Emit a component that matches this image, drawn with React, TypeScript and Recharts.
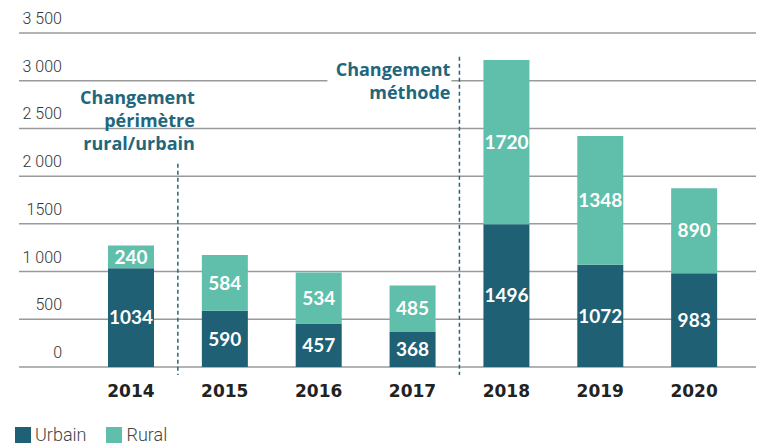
import { BarChart, Bar, XAxis, YAxis, CartesianGrid, LabelList, ReferenceLine, Legend } from 'recharts';

const years = ['2014', '2015', '2016', '2017', '2018', '2019', '2020'];
const urbain = [1034, 590, 457, 368, 1496, 1072, 983];
const rural = [240, 584, 534, 485, 1720, 1348, 890];
const yTicks = [0, 500, 1000, 1500, 2000, 2500, 3000, 3500];
const yTickLabels = ['0', '500', '1 000', '1500', '2 000', '2 500', '3 000', '3 500'];

const data = years.map((year, i) => ({ year, urbain: urbain[i], rural: rural[i] }));

const URBAIN = '#1f6075';
const RURAL = '#5fbfab';
const NOTE = '#22667b';
const LABEL_FONT = 'Lato, "Open Sans", sans-serif';
const NOTE_FONT = '"Open Sans", Lato, sans-serif';
const AXIS_FONT = 'Roboto, sans-serif';

const YTick = ({ y, payload }: any) => {
  const idx = yTicks.indexOf(payload.value);
  return (
    <text x={62} y={y - 9} textAnchor="end" fontFamily={AXIS_FONT} fontWeight={300} fontSize={16} fill="#333">
      {yTickLabels[idx]}
    </text>
  );
};

const XTick = ({ x, y, payload }: any) => (
  <text x={x} y={y + 16} textAnchor="middle" dominantBaseline="central" fontFamily='"DejaVu Sans", sans-serif' fontWeight={700} fontSize={17} fill="#222">
    {payload.value}
  </text>
);

const PerimetreNote = ({ viewBox }: any) => {
  const { x, y } = viewBox;
  const lines = ['Changement', 'périmètre', 'rural/urbain'];
  return (
    <g>
      {lines.map((t, i) => (
        <text key={t} x={x + 17} y={y - 67 + i * 23} textAnchor="end" dominantBaseline="central" fontFamily={NOTE_FONT} fontWeight={700} fontSize={18} fill={NOTE}>
          {t}
        </text>
      ))}
    </g>
  );
};

const MethodeNote = ({ viewBox }: any) => {
  const { x, y } = viewBox;
  const lines = ['Changement', 'méthode'];
  return (
    <g>
      <rect x={x - 132} y={y} width={124} height={46} fill="#fff" />
      {lines.map((t, i) => (
        <text key={t} x={x - 9} y={y + 12 + i * 23} textAnchor="end" dominantBaseline="central" fontFamily={NOTE_FONT} fontWeight={700} fontSize={18} fill={NOTE}>
          {t}
        </text>
      ))}
    </g>
  );
};

const LegendContent = () => (
  <div style={{ display: 'flex', alignItems: 'center', fontFamily: AXIS_FONT, fontWeight: 300, fontSize: 18, lineHeight: '18px', color: '#444' }}>
    <span style={{ width: 16, height: 16, background: URBAIN, display: 'inline-block', marginRight: 4 }} />
    <span style={{ marginRight: 20 }}>Urbain</span>
    <span style={{ width: 16, height: 16, background: RURAL, display: 'inline-block', marginRight: 4 }} />
    <span>Rural</span>
  </div>
);

export default function App() {
  return (
    <div style={{ width: 758, height: 446, position: 'relative', background: '#fff' }}>
      <style>{`body{margin:0}`}</style>
      <BarChart width={758} height={446} data={data} margin={{ top: 33, right: 2, left: 18, bottom: 31 }}>
        <CartesianGrid vertical={false} stroke="#9a9a9a" strokeWidth={1.5} />
        <XAxis dataKey="year" axisLine={false} tickLine={false} tick={<XTick />} padding={{ left: 65, right: 15 }} height={30} />
        <YAxis domain={[0, 3500]} ticks={yTicks} width={1} axisLine={false} tickLine={false} tick={<YTick />} interval={0} />
        <Legend
          verticalAlign="bottom"
          align="left"
          content={<LegendContent />}
          wrapperStyle={{ left: 15, top: 426, width: 'auto', height: 'auto' }}
        />
        <ReferenceLine
          segment={[{ x: '2015', y: 2130 }, { x: '2015', y: -84 }]}
          position="start"
          ifOverflow="visible"
          stroke={NOTE}
          strokeWidth={1.5}
          strokeDasharray="4 3"
          label={<PerimetreNote />}
        />
        <ReferenceLine
          segment={[{ x: '2018', y: 3250 }, { x: '2018', y: -84 }]}
          position="start"
          ifOverflow="visible"
          stroke={NOTE}
          strokeWidth={1.5}
          strokeDasharray="4 3"
          label={<MethodeNote />}
        />
        <Bar dataKey="urbain" name="Urbain" stackId="a" fill={URBAIN} barSize={46} isAnimationActive={false}>
          <LabelList dataKey="urbain" position="center" fill="#fff" fontFamily={LABEL_FONT} fontWeight={700} fontSize={19} />
        </Bar>
        <Bar dataKey="rural" name="Rural" stackId="a" fill={RURAL} barSize={46} isAnimationActive={false}>
          <LabelList dataKey="rural" position="center" fill="#fff" fontFamily={LABEL_FONT} fontWeight={700} fontSize={19} />
        </Bar>
      </BarChart>
    </div>
  );
}
